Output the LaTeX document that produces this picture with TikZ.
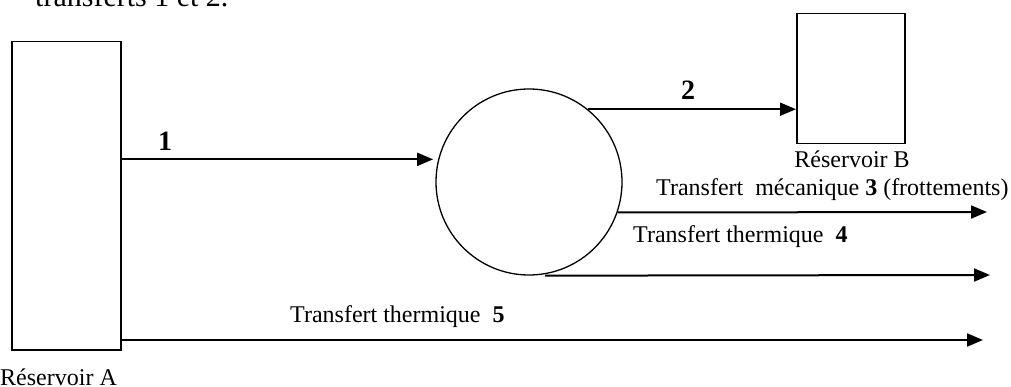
\documentclass[tikz,border=0pt]{standalone}
\usepackage{fontspec}
\setmainfont{Liberation Serif}
\usetikzlibrary{arrows.meta}
\begin{document}
\begin{tikzpicture}[x=1pt,y=-1pt,
  box/.style={draw,line width=1.5pt,inner sep=0pt,anchor=north west},
  flow/.style={line width=2pt,-{Triangle[length=16pt,width=13pt]}},
  lbl/.style={font=\fontsize{24}{28}\selectfont,inner sep=0pt,anchor=base west},
  num/.style={font=\fontsize{28}{32}\selectfont\bfseries,inner sep=0pt,anchor=base}]
\useasboundingbox (0,0) rectangle (1011,387);
% partial text at top
\node[font=\fontsize{30}{34}\selectfont,inner sep=0pt,anchor=base west] (top) at (35,7) {transferts 1 et 2.};
% reservoirs
\node[box,minimum width=109pt,minimum height=308pt] (A) at (11,41) {};
\node[box,minimum width=108pt,minimum height=130pt] (B) at (796,13) {};
\node[draw,circle,line width=1.3pt,minimum size=186pt,inner sep=0pt] (C) at (529,182) {};
% labels
\node[lbl] (lA) at (0,385) {Réservoir A};
\node[lbl,anchor=base] (lB) at (852,168) {Réservoir B};
% coordinates
\coordinate (e3) at (987,212);
\coordinate (e4) at (990,275);
\coordinate (e5) at (983,340);
% arrows
\draw[flow,shorten >=5pt] (A.north east |- C.166) -- (C.166);
\draw[flow] (C.51) -- (B.north west |- C.51);
\draw[flow] (C.-19) -- (e3);
\draw[flow] ([xshift=16pt]C.south) -- (e4);
\draw[flow] (A.north east |- e5) -- (e5);
% numbers
\node[num] (n1) at (165,151) {1};
\node[num] (n2) at (688,100) {2};
\node[lbl] (t3) at (656,196) {Transfert\ \ mécanique \textbf{3} (frottements)};
\node[lbl] (t4) at (633,243) {Transfert thermique\ \ \textbf{4}};
\node[lbl] (t5) at (290,322) {Transfert thermique\ \ \textbf{5}};
\end{tikzpicture}
\end{document}
